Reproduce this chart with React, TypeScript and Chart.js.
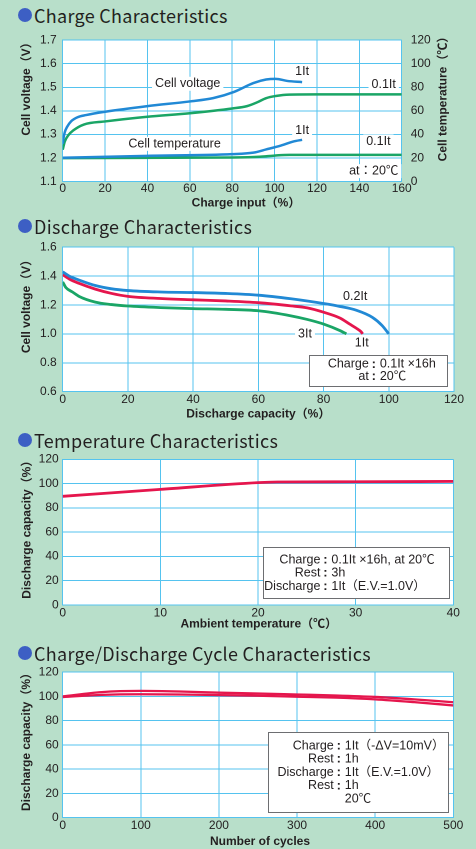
import React, { useEffect, useRef } from "react";
import { Chart, registerables } from "chart.js";
Chart.register(...registerables);

const W = 476;
const BG = "#b8dfca";
const GRID = "#55c3ef";
const BLUE = "#2189d5";
const GREEN = "#1aa566";
const RED = "#e5164d";
const INK = "#231f20";
const SANS = '"Liberation Sans", Arial, "Noto Sans CJK JP", sans-serif';
const TITLE_FONT = '"Noto Sans CJK JP", "Noto Sans", sans-serif';

// ---------- Charge Characteristics ----------
const chargeXTicks = [0, 20, 40, 60, 80, 100, 120, 140, 160];
const chargeVTicks = [1.1, 1.2, 1.3, 1.4, 1.5, 1.6, 1.7];
const chargeTTicks = [0, 20, 40, 60, 80, 100, 120];
const chargeV1ItX = [0, 0.5, 1, 2, 4, 7, 11, 20, 40, 60, 71, 81, 90, 96, 100.5, 106, 113];
const chargeV1ItY = [1.26, 1.29, 1.31, 1.331, 1.356, 1.373, 1.382, 1.396, 1.42, 1.44, 1.454, 1.481, 1.518, 1.533, 1.536, 1.527, 1.522];
const chargeV01ItX = [0, 1, 2.7, 5, 10, 20, 40, 60, 80, 87, 92, 96, 100.5, 107, 120, 160];
const chargeV01ItY = [1.235, 1.27, 1.297, 1.317, 1.342, 1.355, 1.375, 1.39, 1.41, 1.42, 1.437, 1.454, 1.463, 1.469, 1.47, 1.47];
const chargeT1ItX = [0, 40, 80, 90, 96, 103, 109, 113];
const chargeT1ItY = [20.2, 21.8, 23.2, 24.5, 27.2, 30.5, 34, 35.4];
const chargeT01ItX = [0, 80, 93, 100, 107, 120, 160];
const chargeT01ItY = [19.9, 20.4, 21, 22, 22.6, 22.6, 22.6];

// ---------- Discharge Characteristics ----------
const dischXTicks = [0, 20, 40, 60, 80, 100, 120];
const dischYTicks = [0.6, 0.8, 1.0, 1.2, 1.4, 1.6];
const disch02X = [0, 2, 5, 10, 15, 20, 30, 40, 50, 60, 70, 80, 85, 90, 95, 98, 100];
const disch02Y = [1.43, 1.4, 1.373, 1.335, 1.312, 1.3, 1.29, 1.286, 1.28, 1.268, 1.243, 1.21, 1.19, 1.164, 1.114, 1.057, 1.0];
const disch1X = [0, 2, 5, 10, 15, 20, 30, 40, 50, 60, 70, 75, 80, 85, 88, 90, 91.5, 92];
const disch1Y = [1.41, 1.38, 1.35, 1.31, 1.28, 1.26, 1.245, 1.236, 1.228, 1.216, 1.194, 1.18, 1.15, 1.11, 1.068, 1.04, 1.015, 1.0];
const disch3X = [0, 1, 3, 5, 10, 15, 20, 30, 40, 50, 60, 70, 75, 80, 85, 87];
const disch3Y = [1.36, 1.32, 1.29, 1.26, 1.22, 1.203, 1.193, 1.182, 1.175, 1.17, 1.16, 1.125, 1.1, 1.068, 1.023, 1.0];

// ---------- Temperature Characteristics ----------
const tempXTicks = [0, 10, 20, 30, 40];
const tempYTicks = [0, 20, 40, 60, 80, 100, 120];
const tempX = [0, 10, 20, 22, 30, 40];
const tempY = [89.5, 95.2, 100.8, 101.3, 101.5, 101.8];

// ---------- Charge/Discharge Cycle Characteristics ----------
const cycleXTicks = [0, 100, 200, 300, 400, 500];
const cycleYTicks = [0, 20, 40, 60, 80, 100, 120];
const cycleX = [0, 50, 100, 150, 200, 250, 300, 350, 400, 450, 500];
const cycleUpper = [100, 103.6, 104.6, 104.1, 103.1, 102.4, 101.6, 100.8, 99.6, 97.6, 95.2];
const cycleLower = [99.5, 101.3, 101.8, 101.6, 101.1, 100.6, 99.8, 99, 97.6, 95.3, 92.6];

const pts = (xs: number[], ys: number[]) => xs.map((x, i) => ({ x, y: ys[i] }));

type Label = { text: string; x: number; y: number; bg?: boolean };
type BoxLine = { label: string; value: string; colon: boolean };
type InfoBox = { x0: number; x1: number; y0: number; y1: number; colonX: number; first: number; gap: number; lines: BoxLine[] };
type TitlePos = { text: string; x: number; y: number; rot?: number };

interface Panel {
  top: number;
  height: number;
  plotTop: number;
  plotBottom: number;
  plotLeft: number;
  plotRight: number;
  x: { min: number; max: number; ticks: number[] };
  y: { min: number; max: number; ticks: number[]; fmt?: (v: number) => string };
  y1?: { min: number; max: number; ticks: number[] };
  xTickPad: number;
  yTickPad: number;
  titles: TitlePos[];
  datasets: any[];
  labels: Label[];
  box?: InfoBox;
}

const line = (data: any[], color: string, width: number, axis = "y") => ({
  data,
  borderColor: color,
  borderWidth: width,
  pointRadius: 0,
  fill: false,
  cubicInterpolationMode: "monotone",
  yAxisID: axis,
});

const tickFont = { family: SANS, size: 12 };

function makeChart(canvas: HTMLCanvasElement, p: Panel) {
  const setTicks = (arr: number[]) => (s: any) => {
    s.ticks = arr.map((v) => ({ value: v }));
  };
  const plugin = {
    id: "decor",
    beforeDraw(chart: any) {
      const { ctx, chartArea: a } = chart;
      ctx.save();
      ctx.fillStyle = "#ffffff";
      ctx.fillRect(a.left, a.top, a.right - a.left, a.bottom - a.top);
      ctx.restore();
    },
    afterDatasetsDraw(chart: any) {
      const ctx = chart.ctx;
      const xs = chart.scales.x;
      const ys = chart.scales.y;
      ctx.save();
      ctx.font = `12.5px ${SANS}`;
      ctx.textBaseline = "middle";
      for (const l of p.labels) {
        const px = xs.getPixelForValue(l.x);
        const py = ys.getPixelForValue(l.y);
        const w = ctx.measureText(l.text).width;
        if (l.bg) {
          ctx.fillStyle = "#ffffff";
          ctx.fillRect(px - w / 2 - 3, py - 7, w + 6, 14);
        }
        ctx.fillStyle = INK;
        ctx.textAlign = "center";
        ctx.fillText(l.text, px, py);
      }
      if (p.box) {
        const b = p.box;
        const bx0 = Math.round(xs.getPixelForValue(b.x0)) + 0.5;
        const bx1 = Math.round(xs.getPixelForValue(b.x1)) + 0.5;
        const by0 = Math.round(ys.getPixelForValue(b.y0)) + 0.5;
        const by1 = Math.round(ys.getPixelForValue(b.y1)) + 0.5;
        ctx.fillStyle = "#ffffff";
        ctx.fillRect(bx0, by0, bx1 - bx0, by1 - by0);
        ctx.strokeStyle = "#6d6e71";
        ctx.lineWidth = 1;
        ctx.strokeRect(bx0, by0, bx1 - bx0, by1 - by0);
        const cx = xs.getPixelForValue(b.colonX);
        ctx.fillStyle = INK;
        b.lines.forEach((ln, i) => {
          const ly = by0 + b.first + i * b.gap;
          if (ln.label) {
            ctx.textAlign = "right";
            ctx.fillText(ln.label, cx - 3, ly);
          }
          if (ln.colon) {
            ctx.textAlign = "center";
            ctx.font = `bold 13px ${SANS}`;
            ctx.fillText(":", cx + 2, ly);
            ctx.font = `12.5px ${SANS}`;
          }
          ctx.textAlign = "left";
          ctx.fillText(ln.value, cx + 8, ly);
        });
      }
      ctx.restore();
    },
    afterDraw(chart: any) {
      const ctx = chart.ctx;
      ctx.save();
      ctx.font = `bold 12px ${SANS}`;
      ctx.fillStyle = INK;
      ctx.textAlign = "center";
      ctx.textBaseline = "middle";
      for (const t of p.titles) {
        ctx.save();
        ctx.translate(t.x, t.y - p.top);
        if (t.rot) ctx.rotate(t.rot);
        ctx.fillText(t.text, 0, 0);
        ctx.restore();
      }
      ctx.restore();
    },
  };

  const scales: any = {
    x: {
      type: "linear",
      min: p.x.min,
      max: p.x.max,
      afterBuildTicks: setTicks(p.x.ticks),
      ticks: { font: tickFont, color: INK, padding: p.xTickPad, maxRotation: 0, autoSkip: false },
      grid: { color: GRID, lineWidth: 1, drawTicks: false },
      border: { color: GRID },
      afterFit: (s: any) => {
        s.height = p.height - (p.plotBottom - p.top);
      },
    },
    y: {
      type: "linear",
      min: p.y.min,
      max: p.y.max,
      afterBuildTicks: setTicks(p.y.ticks),
      ticks: {
        font: tickFont,
        color: INK,
        padding: p.yTickPad,
        autoSkip: false,
        callback: (v: number) => (p.y.fmt ? p.y.fmt(v) : String(v)),
      },
      grid: { color: GRID, lineWidth: 1, drawTicks: false },
      border: { color: GRID },
      afterFit: (s: any) => {
        s.width = p.plotLeft;
      },
    },
  };
  if (p.y1) {
    scales.y1 = {
      type: "linear",
      position: "right",
      min: p.y1.min,
      max: p.y1.max,
      afterBuildTicks: setTicks(p.y1.ticks),
      ticks: { font: tickFont, color: INK, padding: 9, autoSkip: false },
      grid: { drawOnChartArea: false, drawTicks: false },
      border: { display: false },
      afterFit: (s: any) => {
        s.width = W - p.plotRight;
      },
    };
  }

  return new Chart(canvas, {
    type: "line",
    data: { datasets: p.datasets },
    options: {
      animation: false,
      responsive: false,
      devicePixelRatio: 2,
      layout: {
        padding: { top: p.plotTop - p.top, left: 0, bottom: 0, right: p.y1 ? 0 : W - p.plotRight },
      },
      plugins: { legend: { display: false }, tooltip: { enabled: false } },
      scales,
    },
    plugins: [plugin],
  } as any);
}

const panels: { title: string; titleY: number; panel: Panel }[] = [
  {
    title: "Charge Characteristics",
    titleY: 15,
    panel: {
      top: 24,
      height: 190,
      plotTop: 33.3,
      plotBottom: 181.5,
      plotLeft: 62.7,
      plotRight: 401.7,
      x: { min: 0, max: 160, ticks: chargeXTicks },
      y: { min: 1.1, max: 1.7, ticks: chargeVTicks, fmt: (v) => v.toFixed(1) },
      y1: { min: 0, max: 120, ticks: chargeTTicks },
      xTickPad: 0,
      yTickPad: 6,
      titles: [
        { text: "Charge input（%）", x: 246, y: 203 },
        { text: "Cell voltage（V）", x: 26.5, y: 86, rot: -Math.PI / 2 },
        { text: "Cell temperature（℃）", x: 443, y: 96, rot: -Math.PI / 2 },
      ],
      datasets: [
        line(pts(chargeV1ItX, chargeV1ItY), BLUE, 2.5),
        line(pts(chargeV01ItX, chargeV01ItY), GREEN, 2.5),
        line(pts(chargeT1ItX, chargeT1ItY), BLUE, 2.5, "y1"),
        line(pts(chargeT01ItX, chargeT01ItY), GREEN, 2.5, "y1"),
      ],
      labels: [
        { text: "Cell voltage", x: 59, y: 1.515, bg: true },
        { text: "Cell temperature", x: 52.8, y: 1.26, bg: true },
        { text: "1It", x: 113, y: 1.567, bg: true },
        { text: "0.1It", x: 151.5, y: 1.512, bg: true },
        { text: "1It", x: 113, y: 1.317, bg: true },
        { text: "0.1It", x: 149, y: 1.27, bg: true },
        { text: "at：20℃", x: 146.8, y: 1.144, bg: true },
      ],
    },
  },
  {
    title: "Discharge Characteristics",
    titleY: 226,
    panel: {
      top: 234,
      height: 190,
      plotTop: 245,
      plotBottom: 391.7,
      plotLeft: 62.7,
      plotRight: 454,
      x: { min: 0, max: 120, ticks: dischXTicks },
      y: { min: 0.6, max: 1.6, ticks: dischYTicks, fmt: (v) => v.toFixed(1) },
      xTickPad: 1,
      yTickPad: 6,
      titles: [
        { text: "Discharge capacity（%）", x: 258.3, y: 414 },
        { text: "Cell voltage（V）", x: 26.5, y: 303.5, rot: -Math.PI / 2 },
      ],
      datasets: [
        line(pts(disch02X, disch02Y), BLUE, 2.8),
        line(pts(disch1X, disch1Y), RED, 2.8),
        line(pts(disch3X, disch3Y), GREEN, 2.8),
      ],
      labels: [
        { text: "0.2It", x: 89.7, y: 1.26, bg: true },
        { text: "3It", x: 74.3, y: 1.0, bg: true },
        { text: "1It", x: 91.7, y: 0.936, bg: true },
      ],
      box: {
        x0: 75.5,
        x1: 117.8,
        y0: 0.857,
        y1: 0.639,
        colonX: 94.8,
        first: 8.7,
        gap: 12.3,
        lines: [
          { label: "Charge", value: "0.1It ×16h", colon: true },
          { label: "at", value: "20℃", colon: true },
        ],
      },
    },
  },
  {
    title: "Temperature Characteristics",
    titleY: 440,
    panel: {
      top: 448,
      height: 186,
      plotTop: 459.3,
      plotBottom: 605,
      plotLeft: 62.7,
      plotRight: 453.3,
      x: { min: 0, max: 40, ticks: tempXTicks },
      y: { min: 0, max: 120, ticks: tempYTicks },
      xTickPad: 1,
      yTickPad: 4,
      titles: [
        { text: "Ambient temperature（℃）", x: 258.8, y: 624 },
        { text: "Discharge capacity（%）", x: 27, y: 526.7, rot: -Math.PI / 2 },
      ],
      datasets: [line(pts(tempX, tempY), RED, 2.8)],
      labels: [],
      box: {
        x0: 20.5,
        x1: 39.6,
        y0: 48,
        y1: 5.5,
        colonX: 26.7,
        first: 12.3,
        gap: 13.3,
        lines: [
          { label: "Charge", value: "0.1It ×16h, at 20℃", colon: true },
          { label: "Rest", value: "3h", colon: true },
          { label: "Discharge", value: "1It（E.V.=1.0V）", colon: true },
        ],
      },
    },
  },
  {
    title: "Charge/Discharge Cycle Characteristics",
    titleY: 652.7,
    panel: {
      top: 661,
      height: 188,
      plotTop: 671.7,
      plotBottom: 817.7,
      plotLeft: 62.7,
      plotRight: 453.3,
      x: { min: 0, max: 500, ticks: cycleXTicks },
      y: { min: 0, max: 120, ticks: cycleYTicks },
      xTickPad: 1,
      yTickPad: 4,
      titles: [
        { text: "Number of cycles", x: 260, y: 841.7 },
        { text: "Discharge capacity（%）", x: 26.5, y: 739, rot: -Math.PI / 2 },
      ],
      datasets: [line(pts(cycleX, cycleUpper), RED, 2.3), line(pts(cycleX, cycleLower), RED, 2.3)],
      labels: [],
      box: {
        x0: 262.9,
        x1: 493.3,
        y0: 70.7,
        y1: 4.4,
        colonX: 350.8,
        first: 13.3,
        gap: 13.3,
        lines: [
          { label: "Charge", value: "1It（-ΔV=10mV）", colon: true },
          { label: "Rest", value: "1h", colon: true },
          { label: "Discharge", value: "1It（E.V.=1.0V）", colon: true },
          { label: "Rest", value: "1h", colon: true },
          { label: "", value: "20℃", colon: false },
        ],
      },
    },
  },
];

function ChartCanvas({ panel }: { panel: Panel }) {
  const ref = useRef<HTMLCanvasElement | null>(null);
  useEffect(() => {
    if (!ref.current) return;
    const c = makeChart(ref.current, panel);
    return () => c.destroy();
  }, []);
  return (
    <canvas
      ref={ref}
      width={W}
      height={panel.height}
      style={{ position: "absolute", left: 0, top: panel.top, width: W, height: panel.height }}
    />
  );
}

export default function App() {
  return (
    <div
      style={{
        position: "absolute",
        left: 0,
        top: 0,
        width: W,
        height: 849,
        background: BG,
        overflow: "hidden",
      }}
    >
      {panels.map((pn, i) => (
        <React.Fragment key={i}>
          <div
            style={{
              position: "absolute",
              left: 18,
              top: pn.titleY - 13,
              height: 26,
              lineHeight: "26px",
              fontFamily: TITLE_FONT,
              fontSize: 18,
              letterSpacing: "0.3px",
              color: INK,
              whiteSpace: "nowrap",
              display: "flex",
              alignItems: "center",
            }}
          >
            <span
              style={{
                display: "inline-block",
                width: 14,
                height: 14,
                borderRadius: 7,
                background: "#3d5fc4",
                marginRight: 2,
              }}
            />
            <span>{pn.title}</span>
          </div>
          <ChartCanvas panel={pn.panel} />
        </React.Fragment>
      ))}
    </div>
  );
}
